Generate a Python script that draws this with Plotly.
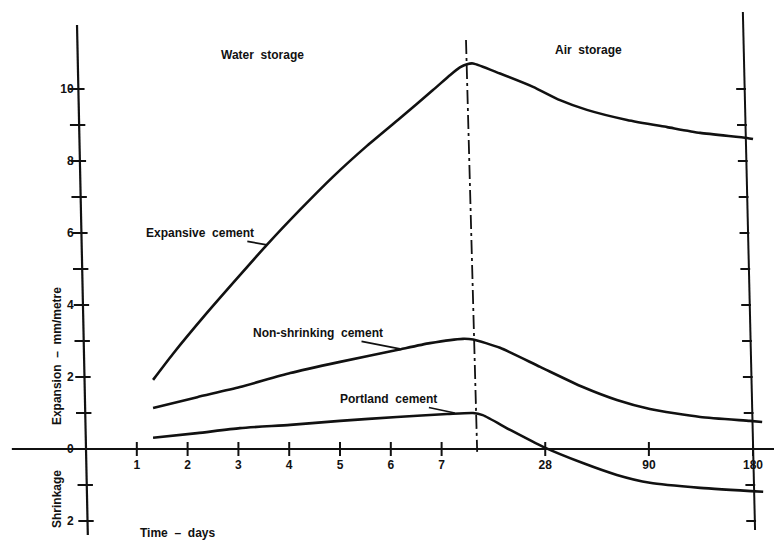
import plotly.graph_objects as go

# ---------------- data ----------------
# x is in chart units: 1 unit = 1 day on the water-storage part (0-7 days);
# the air-storage part follows the figure's own compressed spacing (28, 90, 180 days)
TICK_POS = [1, 2, 3, 4, 5, 6, 7, 9.04, 11.08, 13.13]
TICK_TEXT = ["1", "2", "3", "4", "5", "6", "7", "28", "90", "180"]

Y_TICKS = [10, 8, 6, 4, 2, 0, -2]
Y_TICK_TEXT = ["10", "8", "6", "4", "2", "0", "2"]
Y_MINOR = [-2, -1, 0, 1, 2, 3, 4, 5, 6, 7, 8, 9, 10]

expansive_x = [1.32, 1.71, 2.38, 3.03, 3.56, 4.21, 4.86, 5.53, 6.18, 6.83, 7.17, 7.36, 7.50,
               7.62, 8.15, 8.80, 9.33, 9.86, 10.65, 11.44, 12.09, 13.01, 13.13]
expansive_y = [1.92, 2.64, 3.78, 4.83, 5.67, 6.64, 7.56, 8.42, 9.19, 9.97, 10.39, 10.60, 10.69,
               10.71, 10.43, 10.06, 9.69, 9.42, 9.14, 8.94, 8.78, 8.64, 8.61]

nonshrink_x = [1.32, 2.19, 3.03, 4.02, 5.00, 6.12, 6.77, 7.42, 7.62,
               8.15, 8.94, 9.78, 10.45, 11.10, 12.09, 13.07, 13.31]
nonshrink_y = [1.14, 1.44, 1.72, 2.11, 2.42, 2.75, 2.94, 3.06, 3.04,
               2.81, 2.28, 1.72, 1.36, 1.11, 0.89, 0.78, 0.75]

portland_x = [1.32, 2.19, 3.03, 4.02, 5.00, 6.12, 7.11, 7.62, 7.81,
              8.35, 9.00, 9.78, 10.45, 11.10, 12.09, 13.33]
portland_y = [0.31, 0.44, 0.58, 0.67, 0.78, 0.89, 0.97, 1.00, 0.94,
              0.53, 0.06, -0.39, -0.72, -0.94, -1.08, -1.19]

SERIES_NAMES = ["Expansive  cement", "Non-shrinking  cement", "Portland  cement"]

# ---------------- figure ----------------
FONT = "Liberation Sans"
BLACK = "#111111"

fig = go.Figure()

for xs, ys, name in [(expansive_x, expansive_y, SERIES_NAMES[0]),
                     (nonshrink_x, nonshrink_y, SERIES_NAMES[1]),
                     (portland_x, portland_y, SERIES_NAMES[2])]:
    fig.add_trace(go.Scatter(x=xs, y=ys, mode="lines", name=name,
                             line=dict(color=BLACK, width=2.6, shape="spline", smoothing=0.6),
                             hoverinfo="skip"))

# skew of the scanned vertical lines (x units per y unit)
Y_SKEW = -0.015
R_SKEW = -0.0165
RIGHT_X = 13.13

# tick crosses on the left axis
fig.add_trace(go.Scatter(x=[Y_SKEW * v - 0.03 for v in Y_MINOR], y=Y_MINOR, mode="markers",
                         marker=dict(symbol="line-ew", size=11, line=dict(width=2, color=BLACK)),
                         hoverinfo="skip"))
# tick marks on the right boundary line
fig.add_trace(go.Scatter(x=[RIGHT_X + R_SKEW * v - 0.07 for v in Y_MINOR], y=Y_MINOR, mode="markers",
                         marker=dict(symbol="line-ew", size=7, line=dict(width=2, color=BLACK)),
                         hoverinfo="skip"))
# tick crosses on the time axis
fig.add_trace(go.Scatter(x=TICK_POS, y=[0] * len(TICK_POS), mode="markers",
                         marker=dict(symbol="line-ns", size=10, line=dict(width=2, color=BLACK)),
                         hoverinfo="skip"))

XR = [-1.693, 13.543]
YR = [-2.556, 12.472]

shapes = [
    dict(type="line", xref="x", yref="y", x0=-1.46, y0=0, x1=13.6, y1=0,
         line=dict(color=BLACK, width=2)),
    dict(type="line", xref="x", yref="y", x0=-0.177, y0=11.78, x1=0.036, y1=-2.39,
         line=dict(color=BLACK, width=2.2)),
    dict(type="line", xref="x", yref="y", x0=12.93, y0=12.14, x1=13.17, y1=-2.25,
         line=dict(color=BLACK, width=2)),
    dict(type="line", xref="x", yref="y", x0=7.48, y0=11.36, x1=7.70, y1=-0.08,
         line=dict(color=BLACK, width=1.8, dash="14px,4px,3px,4px")),
]

tf = dict(family=FONT, size=12, color=BLACK, weight="bold")
annotations = [
    dict(x=3.48, y=10.94, text="Water  storage", showarrow=False, font=tf),
    dict(x=9.90, y=11.08, text="Air  storage", showarrow=False, font=tf),
    dict(x=1.81, y=-2.33, text="Time  –  days", showarrow=False, font=tf),
    dict(x=-0.571, y=2.58, text="Expansion  –  mm/metre", textangle=-90, showarrow=False, font=tf),
    dict(x=-0.571, y=-1.39, text="Shrinkage", textangle=-90, showarrow=False, font=tf),
    dict(x=3.56, y=5.67, ax=-67, ay=-12, text=SERIES_NAMES[0], showarrow=True, arrowhead=0,
         arrowwidth=1.6, arrowcolor=BLACK, standoff=0, font=tf),
    dict(x=6.18, y=2.78, ax=-82, ay=-16, text=SERIES_NAMES[1], showarrow=True, arrowhead=0,
         arrowwidth=1.6, arrowcolor=BLACK, standoff=0, font=tf),
    dict(x=7.26, y=1.00, ax=-66, ay=-14, text=SERIES_NAMES[2], showarrow=True, arrowhead=0,
         arrowwidth=1.6, arrowcolor=BLACK, standoff=0, font=tf),
]

fig.update_layout(
    width=774, height=541,
    margin=dict(l=0, r=0, t=0, b=0),
    paper_bgcolor="white", plot_bgcolor="white",
    showlegend=False,
    shapes=shapes,
    annotations=annotations,
    xaxis=dict(range=XR, tickmode="array", tickvals=TICK_POS, ticktext=TICK_TEXT,
               showgrid=False, zeroline=False, showline=False,
               ticks="outside", ticklen=5, tickcolor="rgba(0,0,0,0)",
               anchor="free", position=(0 - YR[0]) / (YR[1] - YR[0]),
               tickfont=dict(family=FONT, size=12, color=BLACK, weight="bold")),
    yaxis=dict(range=YR, tickmode="array", tickvals=Y_TICKS, ticktext=Y_TICK_TEXT,
               showgrid=False, zeroline=False, showline=False,
               ticks="outside", ticklen=10, tickcolor="rgba(0,0,0,0)",
               anchor="free", position=(0 - XR[0]) / (XR[1] - XR[0]),
               tickfont=dict(family=FONT, size=12, color=BLACK, weight="bold")),
)

fig.write_html("out.html", config={"displayModeBar": False},
               post_script="document.body.style.margin='0';document.body.style.overflow='hidden';")
